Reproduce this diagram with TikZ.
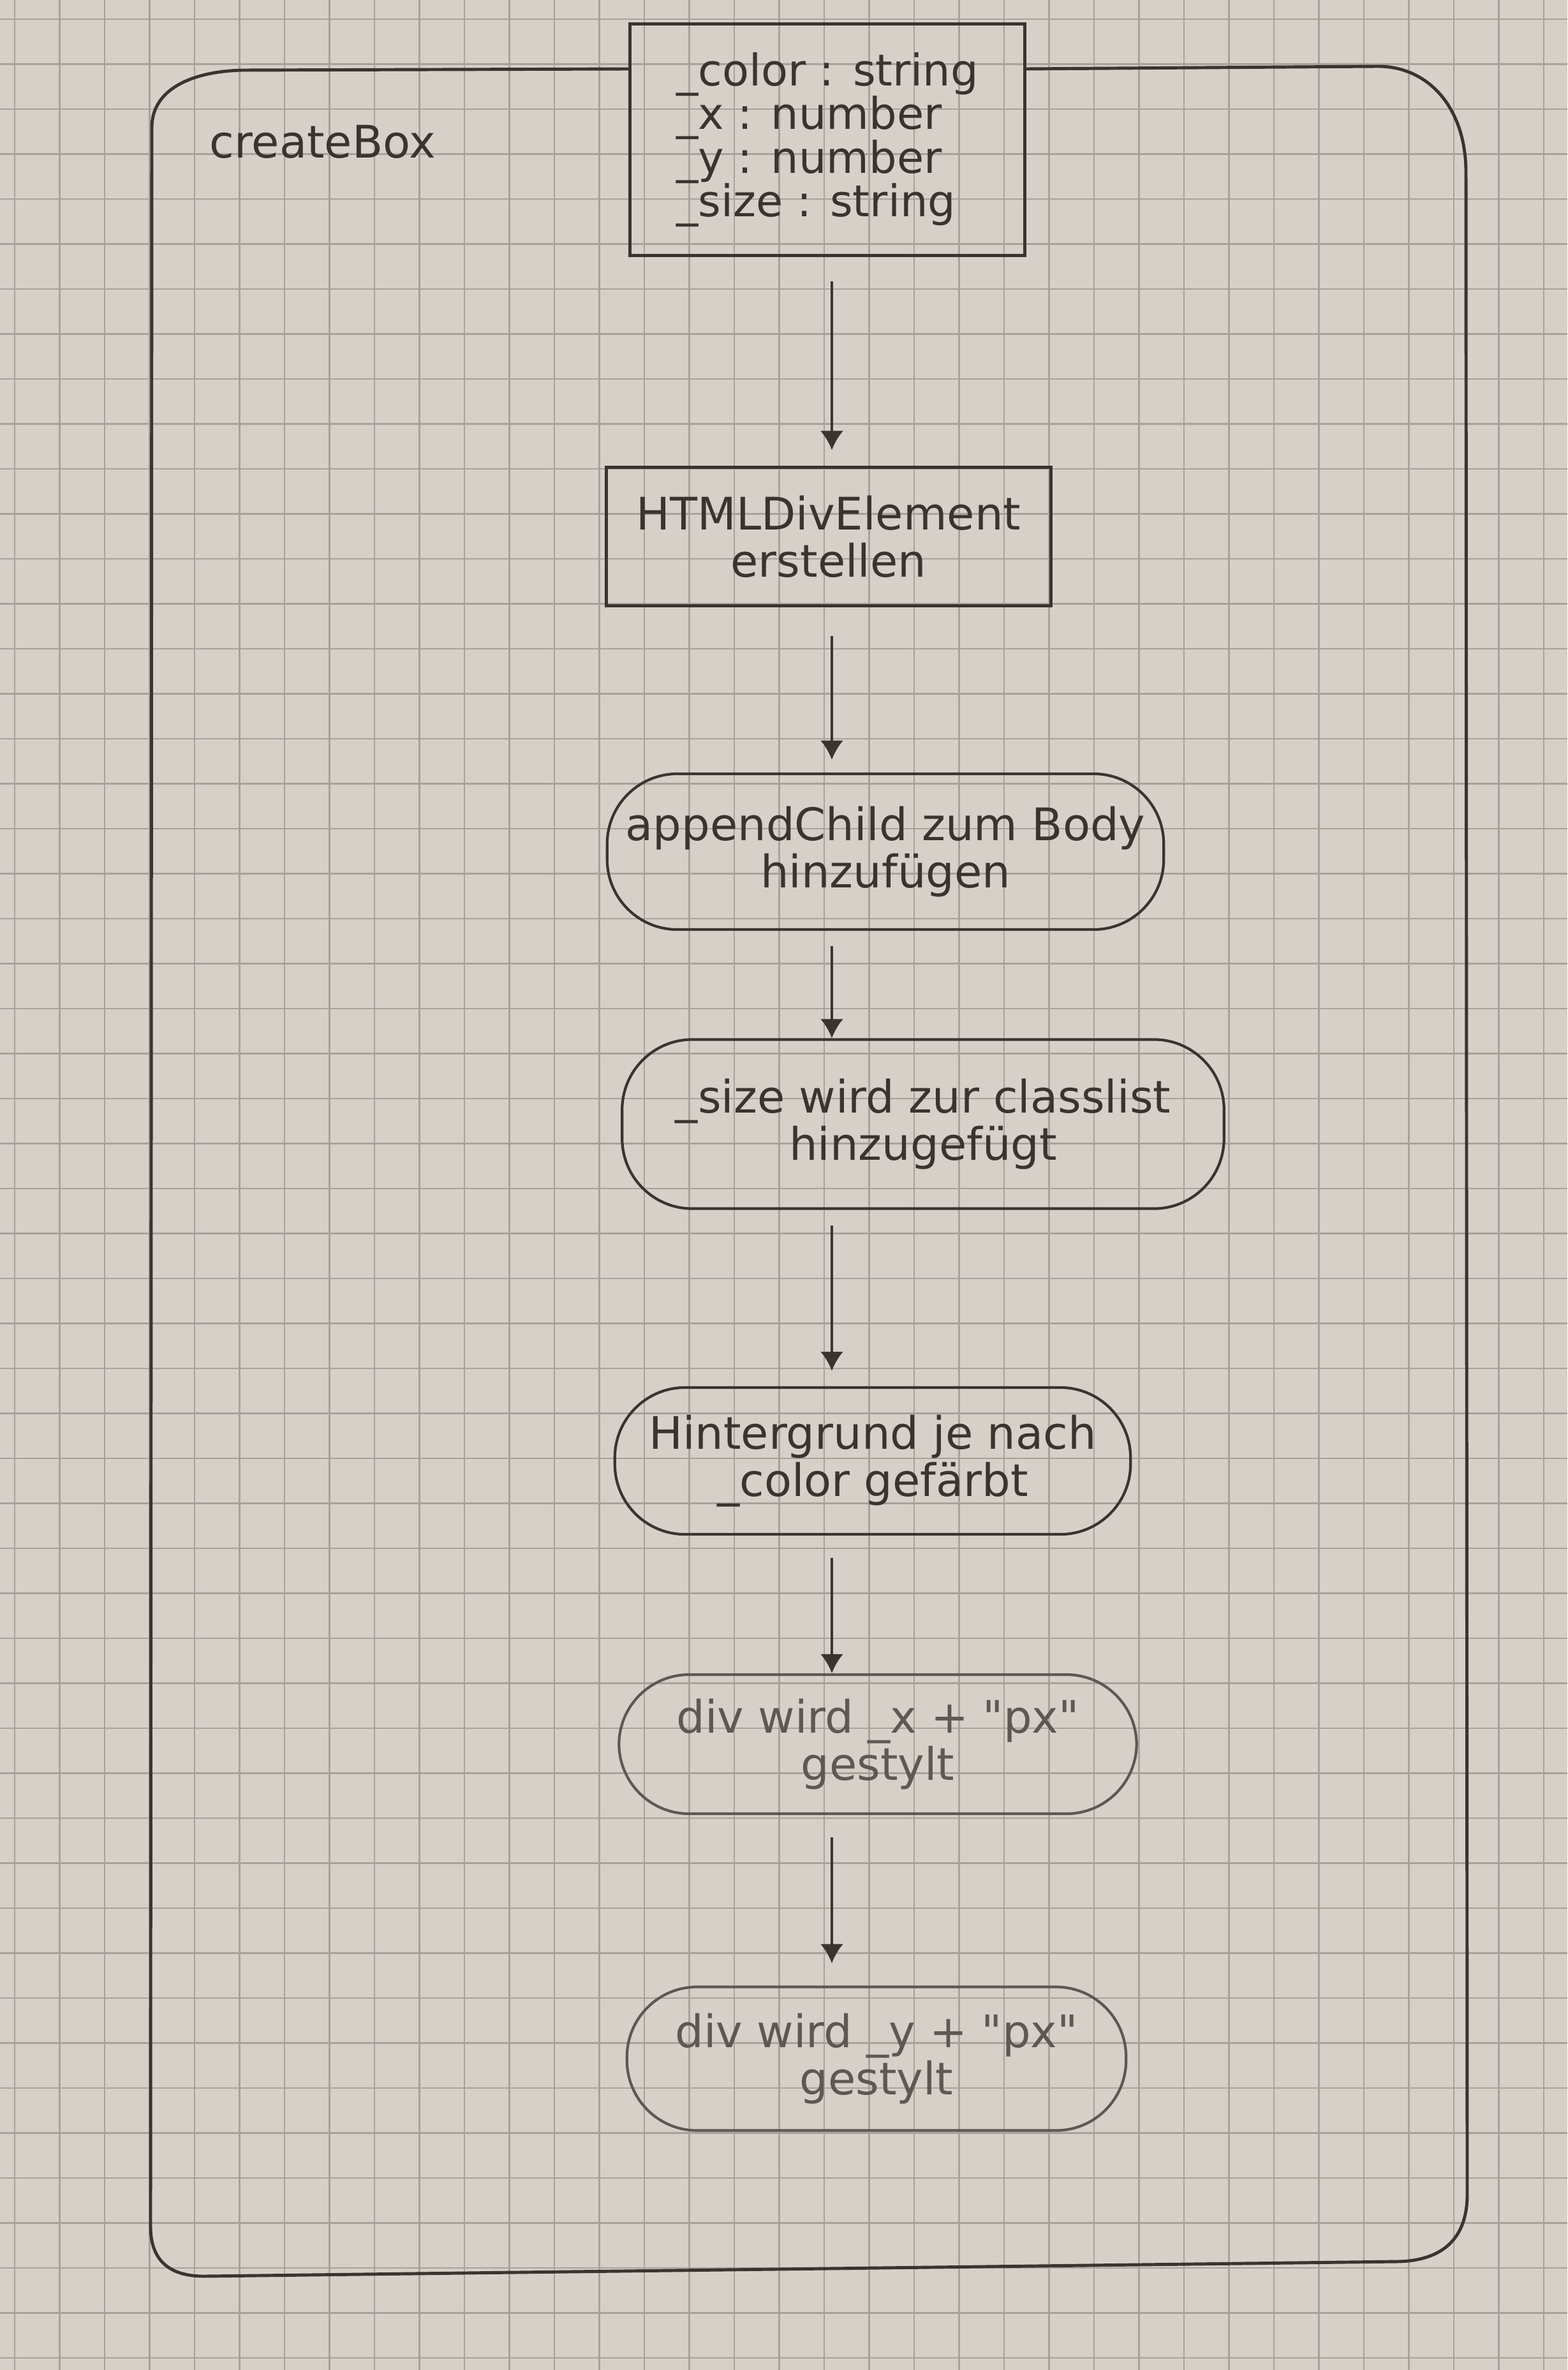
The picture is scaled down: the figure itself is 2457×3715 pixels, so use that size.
\documentclass[tikz,border=0pt]{standalone}
\usepackage{fontspec}
\setmainfont{DejaVu Sans}
\usetikzlibrary{arrows.meta}
\definecolor{paper}{HTML}{D6D0C8}
\definecolor{gridc}{HTML}{A8A29B}
\definecolor{pencil}{HTML}{3A3430}
\definecolor{pencillight}{HTML}{5E5853}
\newcommand{\dq}{\textquotedbl}
\begin{document}
\begin{tikzpicture}[x=0.01cm, y=-0.01cm,
  txt/.style={text=pencil, font=\fontsize{20}{21}\selectfont, align=center},
  attrbox/.style={draw=pencil, line width=1.4pt, minimum width=6.18cm, minimum height=3.62cm, inner sep=0pt, align=left, text=pencil, font=\fontsize{19.5}{19.5}\selectfont},
  stepbox/.style={draw=pencil, line width=1.4pt, inner sep=0pt, txt},
  roundbox/.style={draw=pencil, line width=1.2pt, rounded corners=1.1cm, inner sep=0pt, txt},
  arr/.style={draw=pencil, line width=1.1pt, -{Latex[length=0.3cm,width=0.36cm]}},
  frame/.style={draw=pencil, line width=1.4pt, line join=round},
  gridline/.style={draw=gridc, line width=0.7pt}
]
\useasboundingbox (0,0) rectangle (2457,3715);
\fill[paper] (0,0) rectangle (2457,3715);
\foreach \i in {0,...,34} \draw[gridline] ({23+70.5*\i},0) -- ({23+70.5*\i},3715);
\foreach \j in {0,...,52} \draw[gridline] (0,{30+70.5*\j}) -- (2457,{30+70.5*\j});

\node[attrbox] (attr) at (1297,219) {\_color : string\\\_x : number\\\_y : number\\\_size : string};
\node[stepbox, minimum width=6.96cm, minimum height=2.16cm] (div) at (1299,841) {HTMLDivElement\\erstellen};
\node[roundbox, minimum width=8.72cm, minimum height=2.44cm] (app) at (1388,1335) {appendChild zum Body\\hinzufügen};
\node[roundbox, minimum width=9.43cm, minimum height=2.65cm] (size) at (1447,1762) {\_size wird zur classlist\\hinzugefügt};
\node[roundbox, minimum width=8.08cm, minimum height=2.30cm] (bg) at (1368,2290) {Hintergrund je nach\\\_color gefärbt};
\node[roundbox, minimum width=8.11cm, minimum height=2.18cm, draw=pencillight, text=pencillight] (sx) at (1376,2734) {div wird \_x + \dq px\dq\\gestylt};
\node[roundbox, minimum width=7.82cm, minimum height=2.25cm, draw=pencillight, text=pencillight] (sy) at (1374,3227) {div wird \_y + \dq px\dq\\gestylt};

\node[text=pencil, font=\fontsize{20}{24}\selectfont, anchor=base west, inner sep=0pt] (title) at (328,248) {createBox};

\coordinate (ftop) at (0,108);
\draw[frame] (attr.west |- ftop) -- (380,110) .. controls (300,112) and (238,140) .. (238,200) -- (236,3490) .. controls (236,3540) and (262,3568) .. (320,3568) -- (2190,3545) .. controls (2260,3544) and (2300,3510) .. (2300,3440) -- (2298,270) .. controls (2298,170) and (2240,104) .. (2160,104) -- (attr.east |- ftop);

\coordinate (col) at (1304,0);
\draw[arr, shorten <=0.38cm, shorten >=0.25cm] (attr.south -| col) -- (div.north -| col);
\draw[arr, shorten <=0.45cm, shorten >=0.2cm] (div.south -| col) -- (app.north -| col);
\draw[arr, shorten <=0.24cm] (app.south -| col) -- (size.north -| col);
\draw[arr, shorten <=0.24cm, shorten >=0.24cm] (size.south -| col) -- (bg.north -| col);
\draw[arr, shorten <=0.35cm] (bg.south -| col) -- (sx.north -| col);
\draw[arr, shorten <=0.35cm, shorten >=0.35cm] (sx.south -| col) -- (sy.north -| col);
\end{tikzpicture}
\end{document}
